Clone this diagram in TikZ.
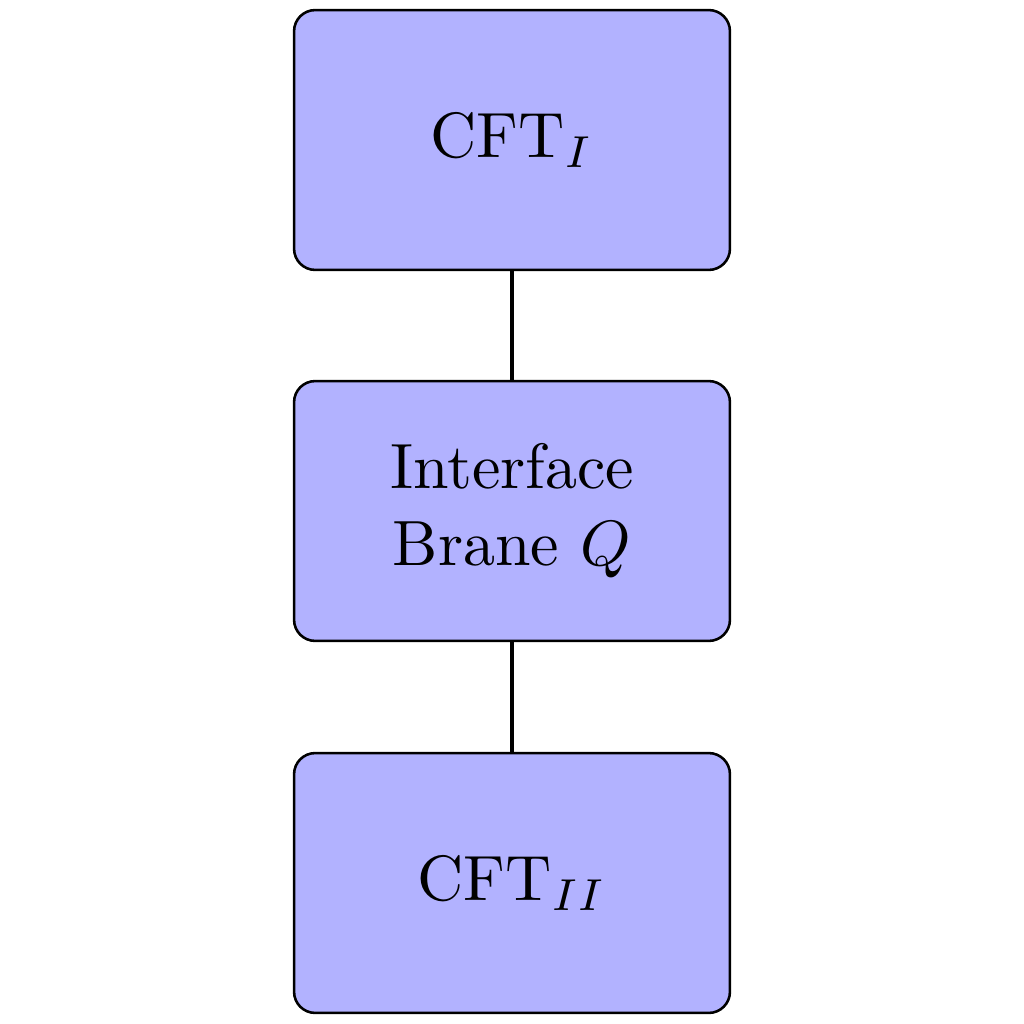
\documentclass[tikz,border=0pt]{standalone}
\begin{document}
\begin{tikzpicture}[x=0.15625pt, y=-0.15625pt,
  blockbox/.style={draw=black, line width=0.4pt, fill=blue!30, rounded corners=3.3pt,
    minimum width=68.1pt, minimum height=40.6pt, align=center, inner sep=0pt},
  link/.style={line width=0.7pt}]
\useasboundingbox (0,0) rectangle (1024,1024);
\node[blockbox] (cft1) at (512,140) {CFT$_I$};
\node[blockbox] (brane) at (512,511) {Interface\\Brane $Q$};
\node[blockbox] (cft2) at (512,883) {CFT$_{II}$};
\draw[link] (cft1) -- (brane);
\draw[link] (brane) -- (cft2);
\end{tikzpicture}
\end{document}
